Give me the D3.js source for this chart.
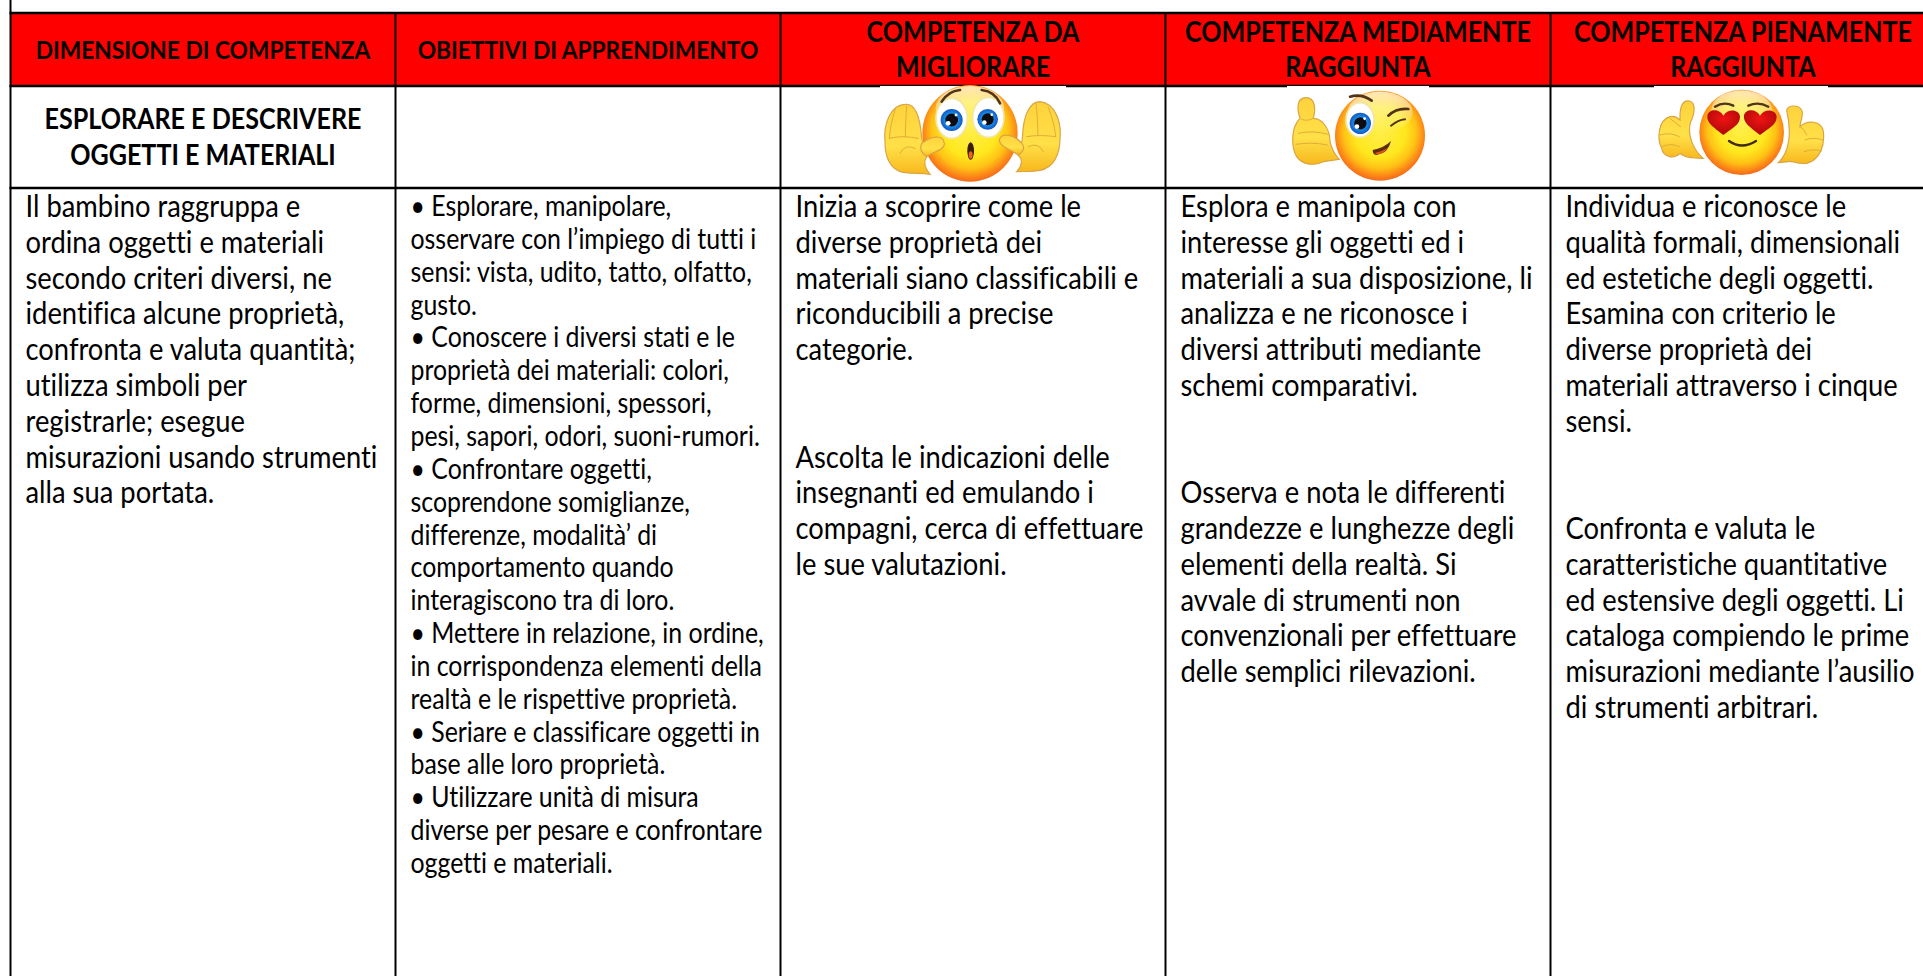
<!DOCTYPE html>
<html>
<head>
<meta charset="utf-8">
<script src="https://cdn.jsdelivr.net/npm/d3@7"></script>
<style>
  html, body { margin: 0; background: #fff; overflow: hidden; }
  text { font-family: Lato, "Open Sans", sans-serif; fill: #000; font-variant-ligatures: none; }
</style>
</head>
<body>
<svg width="1923" height="976"></svg>
<script>
let columns = [0, 1, 2, 3, 4];

let headerSingle = ["DIMENSIONE DI COMPETENZA", "OBIETTIVI DI APPRENDIMENTO"];
let headerDouble = [
  ["COMPETENZA DA", "MIGLIORARE"],
  ["COMPETENZA MEDIAMENTE", "RAGGIUNTA"],
  ["COMPETENZA PIENAMENTE", "RAGGIUNTA"]
];
let sectionTitle = ["ESPLORARE E DESCRIVERE", "OGGETTI E MATERIALI"];

let traguardo = [
  "Il bambino raggruppa e",
  "ordina oggetti e materiali",
  "secondo criteri diversi, ne",
  "identifica alcune proprietà,",
  "confronta e valuta quantità;",
  "utilizza simboli per",
  "registrarle; esegue",
  "misurazioni usando strumenti",
  "alla sua portata."
];
let obiettivi = [
  "• Esplorare, manipolare,",
  "osservare con l’impiego di tutti i",
  "sensi: vista, udito, tatto, olfatto,",
  "gusto.",
  "• Conoscere i diversi stati e le",
  "proprietà dei materiali: colori,",
  "forme, dimensioni, spessori,",
  "pesi, sapori, odori, suoni-rumori.",
  "• Confrontare oggetti,",
  "scoprendone somiglianze,",
  "differenze, modalità’ di",
  "comportamento quando",
  "interagiscono tra di loro.",
  "• Mettere in relazione, in ordine,",
  "in corrispondenza elementi della",
  "realtà e le rispettive proprietà.",
  "• Seriare e classificare oggetti in",
  "base alle loro proprietà.",
  "• Utilizzare unità di misura",
  "diverse per pesare e confrontare",
  "oggetti e materiali."
];
// le righe vuote tengono il salto fra i paragrafi
let daMigliorare = [
  "Inizia a scoprire come le",
  "diverse proprietà dei",
  "materiali siano classificabili e",
  "riconducibili a precise",
  "categorie.",
  "", "",
  "Ascolta le indicazioni delle",
  "insegnanti ed emulando i",
  "compagni, cerca di effettuare",
  "le sue valutazioni."
];
let mediamente = [
  "Esplora e manipola con",
  "interesse gli oggetti ed i",
  "materiali a sua disposizione, li",
  "analizza e ne riconosce i",
  "diversi attributi mediante",
  "schemi comparativi.",
  "", "",
  "Osserva e nota le differenti",
  "grandezze e lunghezze degli",
  "elementi della realtà. Si",
  "avvale di strumenti non",
  "convenzionali per effettuare",
  "delle semplici rilevazioni."
];
let pienamente = [
  "Individua e riconosce le",
  "qualità formali, dimensionali",
  "ed estetiche degli oggetti.",
  "Esamina con criterio le",
  "diverse proprietà dei",
  "materiali attraverso i cinque",
  "sensi.",
  "", "",
  "Confronta e valuta le",
  "caratteristiche quantitative",
  "ed estensive degli oggetti. Li",
  "cataloga compiendo le prime",
  "misurazioni mediante l’ausilio",
  "di strumenti arbitrari."
];

let svg = d3.select("svg"),
    width = +svg.attr("width"),
    height = +svg.attr("height");

const TOP = 13, HEAD_BOTTOM = 86, ROW_BOTTOM = 188;

let x = d3.scaleBand().domain(columns).range([10.5, 10.5 + 385 * 5]);
let lineBig = d3.scaleLinear().domain([0, 14]).range([217, 718]);
let lineSmall = d3.scaleLinear().domain([0, 20]).range([216, 873]);

// Lato e' piu' largo di Calibri: stringo in orizzontale misurando una riga campione
function squeeze(size, weight, sample, target) {
  let t = svg.append("text").attr("font-size", size).attr("font-weight", weight).text(sample);
  let w = t.node().getComputedTextLength();
  t.remove();
  return target / w;
}
let styles = {
  body: { size: 31, weight: 400, k: squeeze(31, 400, "misurazioni usando strumenti", 352) },
  small: { size: 28, weight: 400, k: squeeze(28, 400, "diverse per pesare e confrontare", 352) },
  headBig: { size: 29, weight: 700, k: squeeze(29, 700, "COMPETENZA PIENAMENTE", 338) },
  headSmall: { size: 25, weight: 700, k: squeeze(25, 700, "DIMENSIONE DI COMPETENZA", 335) }
};

function put(g, str, px, py, style, anchor) {
  g.append("text")
    .attr("transform", `translate(${px},${py}) scale(${style.k},1)`)
    .attr("font-size", style.size)
    .attr("font-weight", style.weight)
    .attr("text-anchor", anchor || "start")
    .text(str);
}

// sfondo intestazione
svg.append("rect")
  .attr("x", x(0)).attr("y", TOP)
  .attr("width", width - x(0)).attr("height", HEAD_BOTTOM - TOP)
  .attr("fill", "#ff0000");

// griglia
let grid = svg.append("g").attr("stroke", "#000");
[TOP, HEAD_BOTTOM, ROW_BOTTOM].forEach(y => {
  grid.append("line").attr("x1", x(0) - 1).attr("x2", width)
    .attr("y1", y).attr("y2", y).attr("stroke-width", 2.5);
});
grid.append("line").attr("x1", x(0)).attr("x2", x(0)).attr("y1", 0).attr("y2", height).attr("stroke-width", 2);
columns.slice(1).forEach(c => {
  grid.append("line").attr("x1", x(c)).attr("x2", x(c)).attr("y1", TOP).attr("y2", height).attr("stroke-width", 2);
});

// testi
let labels = svg.append("g");
headerSingle.forEach((h, i) => {
  put(labels, h, x(i) + x.bandwidth() / 2, 59, styles.headSmall, "middle");
});
headerDouble.forEach((pair, i) => {
  pair.forEach((h, j) => {
    put(labels, h, x(i + 2) + x.bandwidth() / 2, 41.7 + j * 35.4, styles.headBig, "middle");
  });
});
sectionTitle.forEach((h, j) => {
  put(labels, h, x(0) + x.bandwidth() / 2, 129 + j * 36, styles.headBig, "middle");
});
[traguardo, obiettivi, daMigliorare, mediamente, pienamente].forEach((rows, c) => {
  rows.forEach((r, i) => {
    if (!r) return;
    if (c == 1) put(labels, r, x(c) + 15, lineSmall(i), styles.small);
    else put(labels, r, x(c) + 15, lineBig(i), styles.body);
  });
});

// gradienti delle faccine
let defs = svg.append("defs");
let face = defs.append("radialGradient").attr("id", "face")
  .attr("cx", "50%").attr("cy", "46%").attr("r", "56%");
[[0, "#ffee4a"], [0.5, "#ffe81e"], [0.72, "#ffc215"], [0.88, "#fc8417"], [1, "#ee5f1e"]]
  .forEach(s => face.append("stop").attr("offset", s[0]).attr("stop-color", s[1]));
let shine = defs.append("linearGradient").attr("id", "shine").attr("x1", 0).attr("x2", 0).attr("y1", 0).attr("y2", 1);
shine.append("stop").attr("offset", 0).attr("stop-color", "#fff").attr("stop-opacity", 0.7);
shine.append("stop").attr("offset", 1).attr("stop-color", "#fff").attr("stop-opacity", 0);
let hand = defs.append("linearGradient").attr("id", "hand").attr("x1", 0).attr("x2", 0).attr("y1", 0).attr("y2", 1);
hand.append("stop").attr("offset", 0).attr("stop-color", "#ffd23c");
hand.append("stop").attr("offset", 0.6).attr("stop-color", "#ffe048");
hand.append("stop").attr("offset", 1).attr("stop-color", "#f8b81e");
let heart = defs.append("radialGradient").attr("id", "heart").attr("cx", "50%").attr("cy", "35%").attr("r", "70%");
heart.append("stop").attr("offset", 0).attr("stop-color", "#f01414");
heart.append("stop").attr("offset", 1).attr("stop-color", "#a80606");
let iris = defs.append("radialGradient").attr("id", "iris");
iris.append("stop").attr("offset", 0.5).attr("stop-color", "#1a9af0");
iris.append("stop").attr("offset", 1).attr("stop-color", "#1257c4");

function emoji(left, coverX, coverW) {
  // il riquadro bianco dell'immagine copre meta' del filetto
  let g = svg.append("g").attr("transform", `translate(${left},85) scale(${1 / 3})`);
  g.append("rect").attr("x", coverX).attr("y", 3).attr("width", coverW).attr("height", 290).attr("fill", "#fff");
  return g;
}
function drawFace(g, cx, cy, rx, ry) {
  g.append("ellipse").attr("cx", cx).attr("cy", cy).attr("rx", rx).attr("ry", ry).attr("fill", "url(#face)");
  g.append("ellipse").attr("cx", cx).attr("cy", cy - ry * 0.52).attr("rx", rx * 0.72).attr("ry", ry * 0.46).attr("fill", "url(#shine)");
}
function drawEye(g, ex, ey, rx, ry, ix, iy, r) {
  g.append("ellipse").attr("cx", ex).attr("cy", ey).attr("rx", rx).attr("ry", ry)
    .attr("fill", "#fff").attr("stroke", "#f0e6a8").attr("stroke-width", 5);
  g.append("circle").attr("cx", ix).attr("cy", iy).attr("r", r).attr("fill", "url(#iris)");
  g.append("circle").attr("cx", ix).attr("cy", iy).attr("r", r * 0.58).attr("fill", "#0c0c12");
  g.append("circle").attr("cx", ix - r * 0.32).attr("cy", iy + r * 0.3).attr("r", r * 0.22).attr("fill", "#fff");
  g.append("circle").attr("cx", ix + r * 0.4).attr("cy", iy - r * 0.45).attr("r", r * 0.13).attr("fill", "#fff");
}
function stroke(g, d, w, col) {
  g.append("path").attr("d", d).attr("fill", "none").attr("stroke", col || "#4f3418")
    .attr("stroke-width", w).attr("stroke-linecap", "round");
}
function drawHand(g, d, creases) {
  g.append("path").attr("d", d).attr("fill", "url(#hand)").attr("stroke", "#d9a441").attr("stroke-width", 3.5);
  creases.forEach(c => stroke(g, c, 3, "#dfae37"));
}

// faccina stupita
let e1 = emoji(880, 0, 558);
drawHand(e1, "M15 170 C10 120 30 60 75 58 C105 55 120 90 125 160 L130 175 C150 155 190 145 193 175 C195 195 160 200 140 215 C130 230 135 250 150 268 C120 262 110 268 70 262 C30 255 15 215 15 170Z",
  ["M45 75 C35 105 30 135 28 160", "M80 62 C78 95 76 130 76 155", "M28 160 Q65 150 115 160", "M60 205 Q75 175 105 190"]);
drawHand(e1, "M540 160 C545 110 525 55 480 50 C450 50 430 90 428 150 L425 175 C405 150 365 140 358 165 C358 185 395 195 415 210 C430 225 425 245 410 260 C440 258 450 262 480 256 C520 248 540 210 540 160Z",
  ["M505 68 C518 100 525 130 527 155", "M468 55 C472 90 473 125 474 150", "M440 155 Q480 148 527 155", "M490 200 Q475 170 445 185"]);
drawFace(e1, 270, 145, 143, 145);
// le mani davanti alla faccia
drawHand(e1, "M125 175 C150 155 190 145 193 175 C195 195 160 200 140 215 C125 205 118 190 125 175Z", []);
drawHand(e1, "M425 175 C405 150 365 140 358 165 C358 185 395 195 415 210 C432 200 435 185 425 175Z", []);
drawEye(e1, 215, 100, 47, 60, 215, 105, 33);
drawEye(e1, 325, 97, 47, 60, 323, 103, 31);
stroke(e1, "M185 50 Q205 18 240 15", 8);
stroke(e1, "M305 15 Q345 20 360 55", 8);
e1.append("ellipse").attr("cx", 272).attr("cy", 198).attr("rx", 10).attr("ry", 26).attr("fill", "#3a1d0a");
e1.append("ellipse").attr("cx", 272).attr("cy", 210).attr("rx", 6).attr("ry", 11).attr("fill", "#e8651c");

// faccina che fa l'occhiolino
let e2 = emoji(1280, 21, 426);
drawHand(e2, "M60 100 C50 70 50 38 78 38 C105 38 108 70 100 100 C125 100 150 130 150 170 C155 190 165 210 178 223 L130 230 C110 240 70 245 50 215 C35 190 30 130 60 100Z",
  ["M55 145 Q100 135 145 148", "M48 178 Q95 170 142 180", "M65 103 Q80 110 100 100"]);
drawFace(e2, 300, 152, 135, 135);
drawEye(e2, 240, 105, 42, 52, 241, 115, 32);
stroke(e2, "M210 35 Q245 25 275 47", 8);
stroke(e2, "M325 92 Q350 68 385 72", 8);
stroke(e2, "M333 122 Q355 105 375 103", 6);
e2.append("path").attr("d", "M278 195 Q310 190 333 168 Q325 205 290 210 Q278 210 278 195Z").attr("fill", "#5b2c10");
e2.append("path").attr("d", "M283 205 Q305 200 322 190 Q312 205 292 208Z").attr("fill", "#e8541c");

// faccina innamorata
let e3 = emoji(1650, 12, 522);
drawHand(e3, "M90 95 C90 60 100 45 118 48 C138 52 135 85 122 110 C110 150 130 195 160 220 C130 220 100 215 90 205 C70 225 40 215 35 190 C20 160 25 105 60 95 C70 92 80 95 90 105Z",
  ["M30 150 Q60 140 88 155", "M36 185 Q62 172 88 185", "M60 100 Q78 115 92 125"]);
drawHand(e3, "M410 75 C415 60 445 58 455 75 C462 90 450 110 450 125 C470 105 515 105 520 140 C525 180 510 225 470 235 C440 238 420 225 415 230 L385 233 C420 200 425 140 410 75Z",
  ["M465 165 Q490 155 520 165", "M462 200 Q490 190 515 198", "M450 125 Q462 130 470 150"]);
drawFace(e3, 275, 142, 127, 128);
stroke(e3, "M195 65 Q222 48 250 62", 7);
stroke(e3, "M295 62 Q325 48 355 65", 7);
let heartPath = "M220 150 C190 125 170 115 172 92 C175 70 210 70 220 92 C232 70 268 72 270 95 C270 120 245 130 220 150Z";
e3.append("path").attr("d", heartPath).attr("fill", "url(#heart)");
e3.append("path").attr("d", heartPath).attr("transform", "translate(110,0)").attr("fill", "url(#heart)");
stroke(e3, "M237 168 Q275 195 318 168", 7, "#3f2a10");
</script>
</body>
</html>
